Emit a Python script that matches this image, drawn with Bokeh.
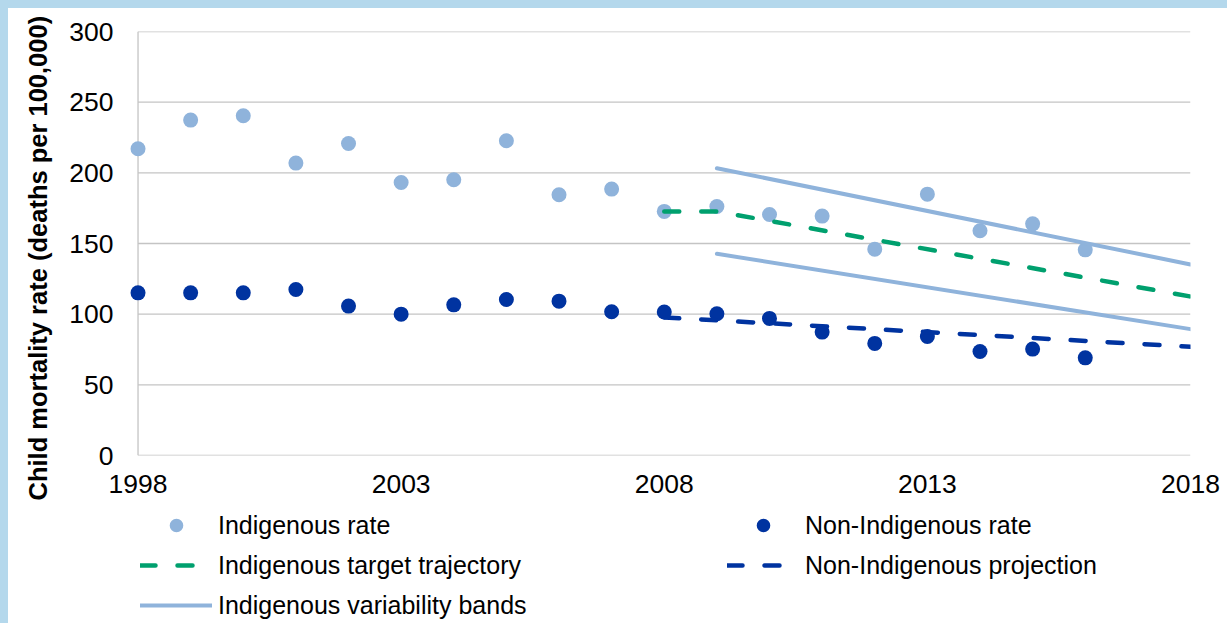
from bokeh.plotting import figure
from bokeh.models import Range1d, FixedTicker, Legend, LegendItem, Title
from bokeh.layouts import column
from bokeh.embed import file_html
from bokeh.resources import INLINE

# ---- data ----
years = list(range(1998, 2017))
indigenous_rate = [217.0, 237.3, 240.4, 206.9, 220.8, 193.2, 195.1, 222.7, 184.5, 188.5,
                   172.7, 176.2, 170.5, 169.4, 146.0, 184.9, 159.0, 163.9, 145.5]
non_indigenous_rate = [115.1, 115.1, 115.1, 117.5, 105.7, 100.0, 106.6, 110.4, 109.2, 101.7,
                       101.5, 100.3, 97.0, 87.3, 79.3, 84.2, 73.6, 75.3, 69.1]

target_years = [2008, 2009, 2018]
target_values = [172.7, 172.7, 112.5]

projection_years = [2008, 2018]
projection_values = [97.7, 76.9]

band_years = [2009, 2018]
band_upper = [203.3, 135.2]
band_lower = [142.7, 89.4]

x_ticks = [1998, 2003, 2008, 2013, 2018]
y_ticks = [0, 50, 100, 150, 200, 250, 300]

LIGHT = "#8FB3DB"
DARK = "#0033A0"
GREEN = "#00A06E"
GRID = "#C4C4C4"
FONT = "Liberation Sans"
WHITE_BG = {"background-color": "white"}


def draw_series(fig):
    r_ind = fig.scatter(years, indigenous_rate, size=15, color=LIGHT, line_color=None)
    r_non = fig.scatter(years, non_indigenous_rate, size=15, color=DARK, line_color=None)
    r_tgt = fig.line(target_years, target_values, line_color=GREEN, line_width=4.5,
                     line_dash="15 22", line_cap="round")
    r_proj = fig.line(projection_years, projection_values, line_color=DARK, line_width=4.5,
                      line_dash="15 22", line_cap="round")
    r_up = fig.line(band_years, band_upper, line_color=LIGHT, line_width=4, line_cap="round")
    r_lo = fig.line(band_years, band_lower, line_color=LIGHT, line_width=4, line_cap="round")
    return r_ind, r_non, r_tgt, r_proj, r_up, r_lo


x_start, x_end = x_ticks[0], x_ticks[-1]
y_start, y_end = y_ticks[0], y_ticks[-1]

# ---- main chart ----
p = figure(width=1219, height=500, x_range=Range1d(x_start - 0.2, x_end),
           y_range=Range1d(y_start, y_end),
           output_backend="svg", toolbar_location=None, styles=WHITE_BG,
           min_border_left=119, min_border_right=37, min_border_top=23, min_border_bottom=53)
p.outline_line_color = None
p.background_fill_color = "white"
p.border_fill_color = "white"
p.xgrid.visible = False
p.ygrid.visible = False

# horizontal gridlines and the vertical axis line, spanning the plotted years
p.segment(x0=[x_start] * len(y_ticks), x1=[x_end] * len(y_ticks), y0=y_ticks, y1=y_ticks,
          line_color=GRID, line_width=1.3)
p.segment(x0=[x_start], x1=[x_start], y0=[y_start], y1=[y_end], line_color=GRID, line_width=1.3)

draw_series(p)

for ax in (p.xaxis[0], p.yaxis[0]):
    ax.axis_line_color = None
    ax.major_tick_line_color = None
    ax.minor_tick_line_color = None
    ax.major_tick_out = 0
    ax.minor_tick_out = 0
    ax.major_label_text_font = FONT
    ax.major_label_text_font_size = "26.5px"
    ax.major_label_text_color = "black"

p.xaxis[0].ticker = FixedTicker(ticks=x_ticks)
p.yaxis[0].ticker = FixedTicker(ticks=y_ticks)
p.xaxis[0].major_label_standoff = 19
p.yaxis[0].major_label_standoff = 14

ylabel = Title(text="Child mortality rate (deaths per 100,000)", align="left", offset=-45,
               vertical_align="top", standoff=26, text_font=FONT, text_font_size="25.5px",
               text_font_style="bold", text_color="black")
p.add_layout(ylabel, "left")

# ---- legend strip (same series styles, data kept outside its view) ----
leg = figure(width=1219, height=115, x_range=Range1d(-10, -9), y_range=Range1d(-10, -9),
             output_backend="svg", toolbar_location=None, styles=WHITE_BG,
             x_axis_location=None, y_axis_location=None,
             min_border_left=0, min_border_right=0, min_border_top=0, min_border_bottom=0)
leg.outline_line_color = None
leg.grid.visible = False
leg.background_fill_color = "white"
leg.border_fill_color = "white"
l_ind, l_non, l_tgt, l_proj, l_up, l_lo = draw_series(leg)

legend = Legend(items=[
    LegendItem(label="Indigenous rate", renderers=[l_ind]),
    LegendItem(label="Indigenous target trajectory", renderers=[l_tgt]),
    LegendItem(label="Indigenous variability bands", renderers=[l_up]),
    LegendItem(label="Non-Indigenous rate", renderers=[l_non]),
    LegendItem(label="Non-Indigenous projection", renderers=[l_proj]),
], ncols=2, location=(13, 1), glyph_width=72, glyph_height=34, label_standoff=6,
   label_width=503, spacing=6, padding=0, margin=0, border_line_color=None,
   background_fill_alpha=0, label_text_font=FONT, label_text_font_size="25px",
   label_text_color="black")
leg.add_layout(legend)

layout = column(p, leg, spacing=0, styles=WHITE_BG)

html = file_html(layout, INLINE)
html = html.replace("</head>",
                    "<style>body{background-color:#B4D8EC !important;"
                    "padding:8px 0 0 8px !important;margin:0 !important;}</style></head>", 1)
open("out.html", "w").write(html)
